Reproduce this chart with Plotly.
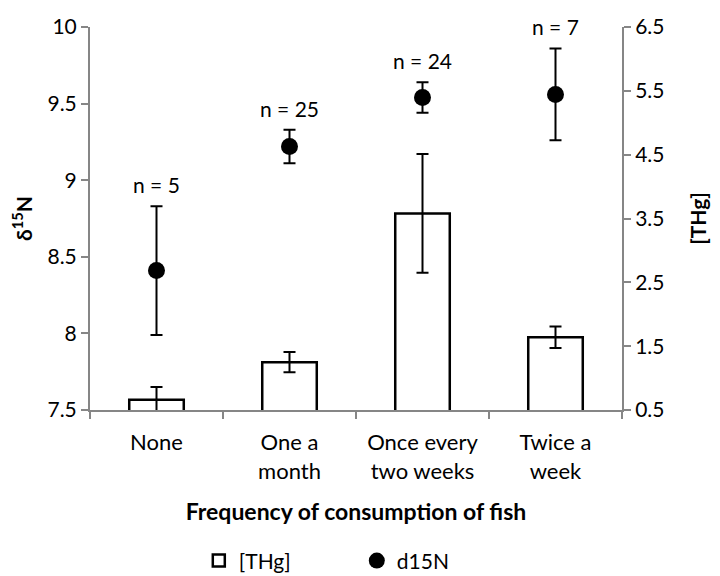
import plotly.graph_objects as go

categories = ["None", "One a<br>month", "Once every<br>two weeks", "Twice a<br>week"]
thg_mean = [0.66, 1.25, 3.58, 1.64]
thg_err = [0.20, 0.16, 0.93, 0.17]
d15n_mean = [8.41, 9.22, 9.54, 9.56]
d15n_err = [0.42, 0.11, 0.10, 0.30]
n_labels = ["n = 5", "n = 25", "n = 24", "n = 7"]

FONT = "Lato"
AXIS_GRAY = "#868686"
FS = 21

fig = go.Figure()
fig.add_trace(go.Bar(
    x=categories, y=thg_mean, name="[THg]", yaxis="y",
    marker=dict(color="white", line=dict(color="black", width=2.5)),
    width=0.41,
    error_y=dict(type="data", array=thg_err, color="black", thickness=2, width=6),
))
fig.add_trace(go.Scatter(
    x=categories, y=d15n_mean, name="d15N", yaxis="y2", mode="markers",
    marker=dict(color="black", size=17, symbol="circle"),
    error_y=dict(type="data", array=d15n_err, color="black", thickness=2, width=6),
))

for c, m, e, t in zip(categories, d15n_mean, d15n_err, n_labels):
    fig.add_annotation(x=c, y=m + e, xref="x", yref="y2", text=t, showarrow=False,
                       yanchor="bottom", yshift=7, font=dict(size=FS, color="black", family=FONT))

fig.update_layout(
    width=720, height=576,
    margin=dict(l=82, r=106, t=19, b=174, autoexpand=False),
    paper_bgcolor="white", plot_bgcolor="white",
    font=dict(family=FONT, size=FS, color="black"),
    showlegend=True,
    legend=dict(orientation="h", xref="container", yref="container",
                x=0.265, xanchor="left", y=0.04, yanchor="middle",
                font=dict(size=FS, family=FONT), itemwidth=30, entrywidth=113,
                traceorder="normal"),
    xaxis=dict(showline=True, linecolor=AXIS_GRAY, linewidth=2, ticks="outside",
               tickson="boundaries", ticklen=7, tickcolor=AXIS_GRAY, tickwidth=2, showgrid=False,
               tickfont=dict(size=22), automargin=False, ticklabelstandoff=12,
               title=dict(text="<b>Frequency of consumption of fish</b>", font=dict(size=23), standoff=21)),
    yaxis=dict(side="right", range=[0.5, 6.5], tickvals=[0.5, 1.5, 2.5, 3.5, 4.5, 5.5, 6.5],
               ticktext=["0.5", "1.5", "2.5", "3.5", "4.5", "5.5", "6.5"],
               showline=True, linecolor=AXIS_GRAY, linewidth=2, ticks="outside", ticklen=7,
               tickcolor=AXIS_GRAY, tickwidth=2, showgrid=False, zeroline=False, tickfont=dict(size=FS),
               automargin=False,
               title=dict(text="<b>[THg]</b>", font=dict(size=FS), standoff=28)),
    yaxis2=dict(side="left", overlaying="y", range=[7.5, 10], dtick=0.5, tick0=7.5,
                showline=True, linecolor=AXIS_GRAY, linewidth=2, ticks="outside", ticklen=7,
                tickcolor=AXIS_GRAY, tickwidth=2, showgrid=False, zeroline=False, tickfont=dict(size=FS),
                automargin=False,
                title=dict(text="<b>δ<sup>15</sup>N</b>", font=dict(size=FS), standoff=32)),
)

fig.write_html("out.html")
